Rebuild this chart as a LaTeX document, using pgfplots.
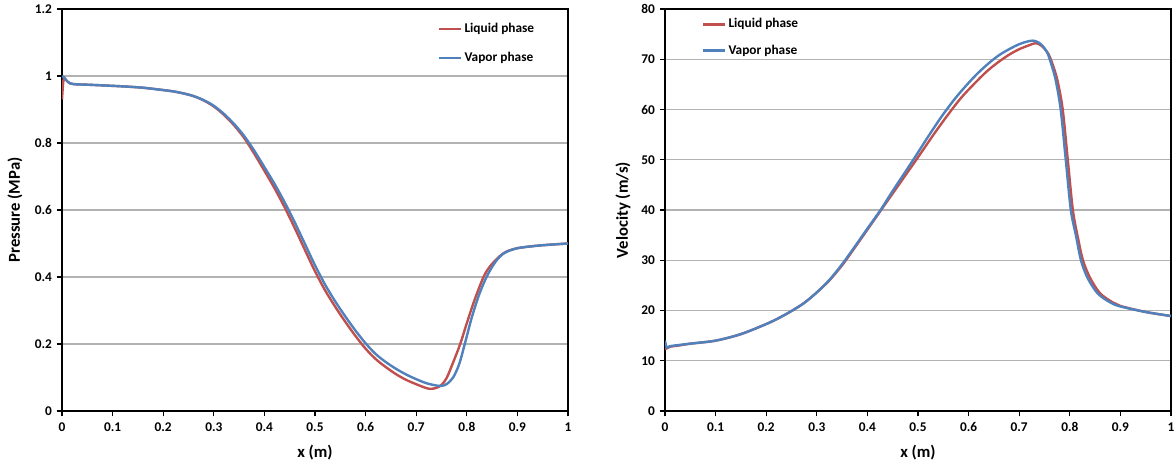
\documentclass[border=0pt]{standalone}
\usepackage{fontspec}
\setmainfont{Carlito}
\usepackage{pgfplots}
\pgfplotsset{compat=1.18}

\definecolor{liq}{RGB}{192,80,77}
\definecolor{vap}{RGB}{79,129,189}

\pgfplotsset{
  panel/.style={
    scale only axis,
    width=379.5pt, height=301.5pt,
    xmin=0, xmax=1,
    xtick={0,0.1,0.2,0.3,0.4,0.5,0.6,0.7,0.8,0.9,1},
    tick pos=left,
    tick align=outside,
    major tick length=4pt,
    tick style={black, line width=0.9pt},
    axis line style={black, line width=1.3pt},
    ymajorgrids,
    grid style={black!30, line width=0.8pt},
    /pgf/number format/assume math mode=true,
    ticklabel style={font=\bfseries\fontsize{10}{12}\selectfont},
    xticklabel style={yshift=-1pt},
    label style={font=\bfseries\fontsize{12.5}{14}\selectfont},
    xlabel={x (m)},
    xlabel style={at={(axis description cs:0.5,-0.104)}, anchor=center},
    legend cell align=left,
    legend image code/.code={\draw[#1, line width=1.8pt] (0pt,0pt) -- (16pt,0pt);},
    legend style={draw=none, fill=none, font=\bfseries\fontsize{10}{12}\selectfont,
      anchor=north west},
  },
  liqline/.style={liq, line width=1.8pt, smooth, tension=0.5},
  vapline/.style={vap, line width=1.8pt, smooth, tension=0.5},
}

\begin{document}
\begin{tikzpicture}
\path[use as bounding box] (-46.5pt,-44.25pt) rectangle (834.75pt,308.25pt);

% ---- pressure ----
\begin{axis}[panel,
  ymin=0, ymax=1.2,
  ytick={0,0.2,0.4,0.6,0.8,1,1.2},
  ylabel={Pressure (MPa)},
  ylabel style={at={(axis description cs:-0.093,0.5)}, anchor=center, rotate=0},
  legend style={at={(axis description cs:0.735,0.978)}, row sep=9pt},
]
\addplot[liqline] coordinates {
 (0,0.930) (0.002,0.975) (0.004,0.995) (0.008,0.988) (0.012,0.982) (0.016,0.978)
 (0.022,0.976) (0.03,0.975) (0.05,0.974) (0.08,0.972) (0.12,0.969) (0.16,0.965)
 (0.2,0.958) (0.22,0.954) (0.24,0.948) (0.26,0.940) (0.28,0.927) (0.30,0.909)
 (0.32,0.884) (0.34,0.853) (0.36,0.815) (0.38,0.768) (0.40,0.717) (0.42,0.665) (0.44,0.608)
 (0.46,0.546) (0.48,0.481) (0.50,0.417) (0.52,0.360) (0.54,0.311) (0.56,0.266)
 (0.58,0.224) (0.60,0.186) (0.62,0.155) (0.64,0.131) (0.66,0.110) (0.68,0.093)
 (0.70,0.080) (0.715,0.071) (0.727,0.066) (0.74,0.069) (0.75,0.078) (0.76,0.098)
 (0.773,0.145) (0.787,0.200) (0.80,0.262) (0.815,0.330) (0.833,0.400) (0.845,0.430)
 (0.86,0.455) (0.87,0.468) (0.88,0.477) (0.9,0.486) (0.93,0.492) (0.96,0.496) (1.0,0.500)
};
\addlegendentry{Liquid phase}
\addplot[vapline] coordinates {
 (0,1.000) (0.004,0.995) (0.008,0.988) (0.012,0.982) (0.016,0.978) (0.022,0.976)
 (0.03,0.975) (0.05,0.974) (0.08,0.972) (0.12,0.969) (0.16,0.965) (0.2,0.958)
 (0.22,0.954) (0.24,0.948) (0.26,0.940) (0.28,0.928) (0.30,0.911) (0.32,0.887)
 (0.34,0.857) (0.36,0.821) (0.38,0.777) (0.40,0.728) (0.42,0.678) (0.44,0.623) (0.46,0.563)
 (0.48,0.499) (0.50,0.435) (0.52,0.377) (0.54,0.327) (0.56,0.282) (0.58,0.240)
 (0.60,0.202) (0.62,0.170) (0.64,0.146) (0.66,0.126) (0.68,0.109) (0.70,0.095)
 (0.72,0.083) (0.74,0.076) (0.75,0.075) (0.76,0.080) (0.773,0.100) (0.785,0.140)
 (0.796,0.200) (0.81,0.280) (0.825,0.350) (0.839,0.400) (0.85,0.430) (0.86,0.452)
 (0.87,0.467) (0.88,0.476) (0.9,0.486) (0.93,0.492) (0.96,0.496) (1.0,0.500)
};
\addlegendentry{Vapor phase}
\end{axis}

% ---- velocity ----
\begin{axis}[panel, at={(452.25pt,0pt)}, anchor=south west,
  ymin=0, ymax=80,
  ytick={0,10,20,30,40,50,60,70,80},
  ylabel={Velocity (m/s)},
  ylabel style={at={(axis description cs:-0.083,0.5)}, anchor=center, rotate=0},
  legend style={at={(axis description cs:0.065,0.99)}, row sep=7pt},
]
\addplot[liqline] coordinates {
 (0,12.3) (0.004,12.5) (0.01,12.8) (0.025,13.0) (0.05,13.4) (0.1,14.0) (0.15,15.3)
 (0.2,17.3) (0.225,18.5) (0.25,19.9) (0.275,21.5) (0.3,23.6) (0.325,26.0)
 (0.35,29.0) (0.375,32.5) (0.4,36.1) (0.45,43.3)
 (0.498,50.2) (0.53,54.9) (0.558,58.8) (0.585,62.3) (0.61,65.0) (0.635,67.5)
 (0.657,69.3) (0.68,70.9) (0.70,72.0) (0.72,72.8) (0.733,73.2) (0.745,72.6)
 (0.758,71.0) (0.768,68.4) (0.776,65.6) (0.786,60) (0.796,50) (0.806,40)
 (0.816,34.5) (0.826,30) (0.84,26.5) (0.86,23.4) (0.885,21.6) (0.9,20.9)
 (0.95,19.7) (1.0,18.9)
};
\addlegendentry{Liquid phase}
\addplot[vapline] coordinates {
 (0,14.0) (0.002,13.0) (0.004,12.6) (0.01,12.9) (0.025,13.1) (0.05,13.4) (0.1,14.0)
 (0.15,15.3) (0.2,17.3) (0.225,18.5) (0.25,19.9) (0.275,21.5) (0.3,23.6)
 (0.325,26.1) (0.35,29.2) (0.375,32.7) (0.4,36.3)
 (0.426,40) (0.45,43.8) (0.492,50.2) (0.52,54.6) (0.548,58.8) (0.575,62.4)
 (0.6,65.3) (0.62,67.4) (0.642,69.4) (0.66,70.8) (0.68,72.0) (0.70,73.0)
 (0.715,73.5) (0.726,73.7) (0.735,73.5) (0.745,72.8) (0.756,71.2) (0.764,68.8)
 (0.772,65.9) (0.782,60) (0.792,50) (0.802,40) (0.812,35) (0.822,30) (0.835,26.5)
 (0.855,23.4) (0.88,21.6) (0.9,20.8) (0.95,19.7) (1.0,18.9)
};
\addlegendentry{Vapor phase}
\end{axis}
\end{tikzpicture}
\end{document}
